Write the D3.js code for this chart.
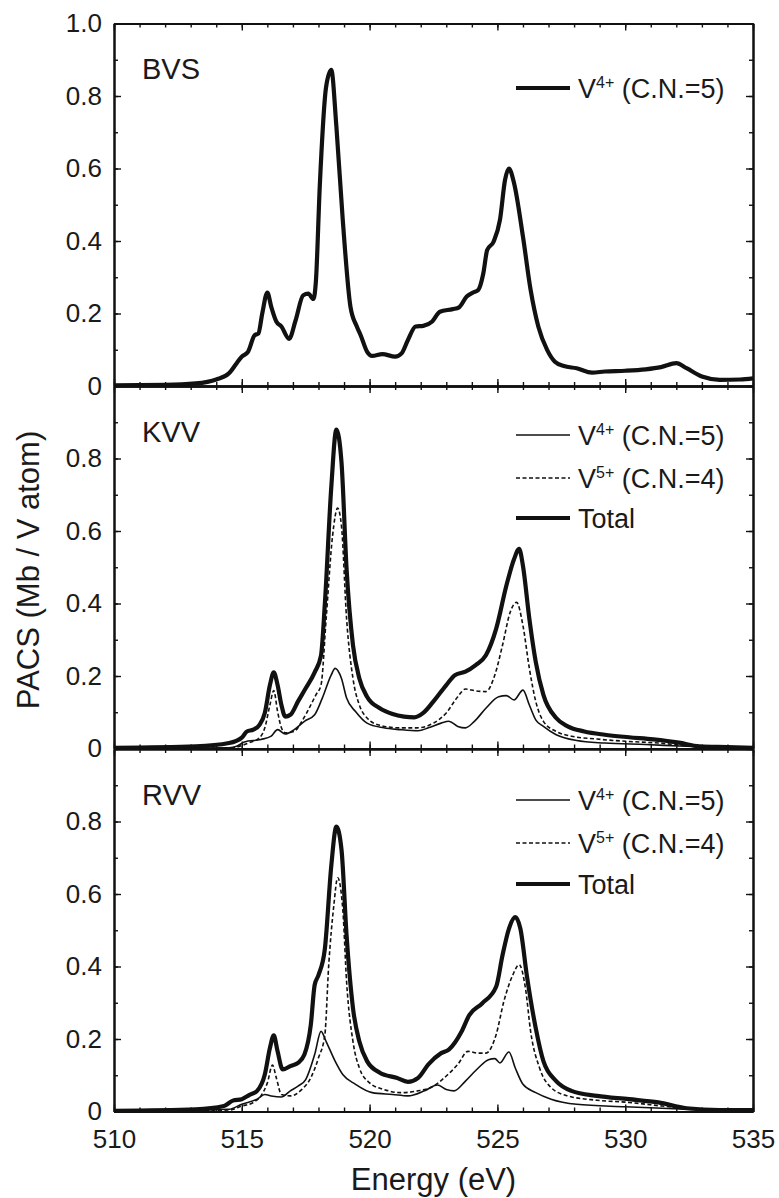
<!DOCTYPE html>
<html>
<head>
<meta charset="utf-8">
<script src="https://cdn.jsdelivr.net/npm/d3@7"></script>
<style>
  html, body { margin: 0; padding: 0; background: #fff; }
  svg { display: block; }
  text { font-family: "Liberation Sans", Arial, sans-serif; fill: #1a1a1a; }
</style>
</head>
<body>
<svg id="chart" width="779" height="1198"></svg>
<script>
// ---------- data ----------
const xMajorTicks = [510, 515, 520, 525, 530, 535];
const yMajorTicks = [0, 0.2, 0.4, 0.6, 0.8, 1.0];
const panelNames = ["BVS", "KVV", "RVV"];
const legendLabels = [["V", "4+", " (C.N.=5)"], ["V", "5+", " (C.N.=4)"], ["Total", "", ""]];

// BVS: V4+ (C.N.=5)
const bvsEnergy = [510,512,513.2,514,514.5,514.8,515.0,515.25,515.5,515.65,515.8,516.0,516.15,516.35,516.55,516.85,517.1,517.4,517.6,517.8,517.9,518.05,518.3,518.5,518.7,518.95,519.25,519.5,519.65,519.9,520.1,520.5,521.0,521.25,521.5,521.8,522.1,522.45,522.75,523.25,523.5,523.8,524.05,524.25,524.45,524.6,524.85,525.1,525.3,525.45,525.65,526.0,526.3,526.6,526.95,527.25,527.6,528.1,528.7,529.2,530.0,530.8,531.4,532.0,532.4,533.0,533.7,534.5,535];
const bvsV4 = [0.002,0.003,0.007,0.018,0.035,0.063,0.081,0.095,0.14,0.145,0.2,0.258,0.219,0.178,0.164,0.13,0.18,0.25,0.255,0.24,0.29,0.55,0.826,0.872,0.716,0.458,0.219,0.164,0.14,0.095,0.083,0.088,0.081,0.09,0.127,0.164,0.166,0.178,0.205,0.212,0.217,0.247,0.258,0.265,0.311,0.375,0.398,0.458,0.569,0.6,0.56,0.412,0.265,0.164,0.099,0.067,0.055,0.049,0.037,0.04,0.042,0.046,0.052,0.063,0.049,0.026,0.017,0.018,0.021];

// KVV
const kvvTotalEnergy = [510,513.2,514.5,515.0,515.2,515.45,515.7,515.9,516.1,516.25,516.4,516.55,516.7,516.9,517.2,517.5,517.85,518.1,518.25,518.5,518.7,518.9,519.1,519.35,519.6,519.9,520.4,520.9,521.35,521.75,522.1,522.5,523.0,523.35,523.75,524.15,524.55,524.95,525.35,525.65,525.85,526.0,526.25,526.5,526.8,527.3,527.75,528.4,529.2,530.15,531.1,532.1,532.9,534.0,535];
const kvvTotal = [0.002,0.006,0.015,0.03,0.047,0.052,0.066,0.098,0.175,0.21,0.175,0.12,0.088,0.093,0.13,0.166,0.21,0.257,0.4,0.72,0.88,0.79,0.494,0.285,0.193,0.143,0.111,0.095,0.088,0.086,0.098,0.13,0.175,0.203,0.212,0.23,0.257,0.33,0.449,0.522,0.551,0.504,0.358,0.239,0.148,0.084,0.061,0.047,0.038,0.031,0.025,0.016,0.006,0.004,0.002];
const kvvV5Energy = [510,514.5,514.8,515.25,515.7,515.9,516.1,516.25,516.4,516.55,516.7,517.05,517.35,517.7,517.9,518.1,518.3,518.55,518.75,518.9,519.1,519.35,519.6,519.9,520.4,521.2,521.85,522.5,523.0,523.45,523.75,524.15,524.55,524.9,525.2,525.5,525.75,526.0,526.25,526.5,526.8,527.3,527.9,528.9,530.0,531.3,532.4,533.7,535];
const kvvV5 = [0,0.001,0.004,0.015,0.03,0.057,0.12,0.16,0.102,0.057,0.043,0.047,0.075,0.12,0.148,0.175,0.358,0.586,0.663,0.613,0.358,0.193,0.12,0.084,0.064,0.057,0.057,0.07,0.098,0.143,0.164,0.159,0.157,0.203,0.285,0.376,0.403,0.339,0.221,0.13,0.075,0.047,0.034,0.026,0.02,0.015,0.008,0.004,0.002];
const kvvV4Energy = [510,514.5,514.8,515.1,515.75,516.15,516.4,516.7,517.05,517.45,517.85,518.15,518.5,518.65,518.9,519.1,519.45,519.9,520.55,521.2,521.9,522.3,522.8,523.1,523.45,523.75,524.1,524.55,525.05,525.35,525.65,526.0,526.25,526.5,526.8,527.3,528.1,529.2,530.8,532.4,535];
const kvvV4 = [0,0.002,0.006,0.018,0.025,0.034,0.052,0.04,0.052,0.075,0.093,0.139,0.203,0.221,0.193,0.139,0.102,0.07,0.057,0.052,0.049,0.057,0.07,0.075,0.061,0.057,0.075,0.111,0.143,0.146,0.134,0.161,0.12,0.079,0.061,0.038,0.022,0.015,0.011,0.006,0.002];

// RVV
const rvvTotalEnergy = [510,513.2,514.3,514.65,515.0,515.3,515.6,515.9,516.1,516.25,516.4,516.6,516.9,517.2,517.45,517.7,517.85,518.0,518.25,518.5,518.7,518.9,519.1,519.35,519.6,519.9,520.4,521.05,521.5,521.9,522.3,522.8,523.1,523.6,523.9,524.4,524.95,525.2,525.45,525.7,525.9,526.15,526.5,526.8,527.3,527.9,528.9,530.15,531.3,532.4,533.7,535];
const rvvTotal = [0.002,0.006,0.015,0.03,0.034,0.046,0.057,0.102,0.175,0.21,0.166,0.116,0.125,0.134,0.157,0.239,0.349,0.376,0.449,0.677,0.786,0.723,0.485,0.285,0.193,0.139,0.107,0.093,0.082,0.093,0.13,0.161,0.171,0.221,0.266,0.298,0.344,0.431,0.504,0.536,0.504,0.376,0.23,0.139,0.084,0.057,0.043,0.034,0.025,0.009,0.004,0.004];
const rvvV5Energy = [510,514.5,515.0,515.45,515.75,516.0,516.2,516.35,516.55,516.9,517.35,517.7,518.0,518.25,518.4,518.6,518.75,518.95,519.1,519.35,519.6,520.0,520.55,521.2,521.9,522.5,523.0,523.45,523.85,524.25,524.55,524.95,525.25,525.6,525.85,526.1,526.3,526.65,527.1,527.75,528.9,530.15,531.45,532.7,535];
const rvvV5 = [0,0.004,0.015,0.025,0.043,0.079,0.128,0.093,0.047,0.043,0.061,0.093,0.148,0.212,0.403,0.568,0.645,0.558,0.358,0.193,0.12,0.079,0.061,0.052,0.057,0.07,0.098,0.13,0.166,0.161,0.161,0.212,0.303,0.376,0.405,0.339,0.221,0.12,0.066,0.043,0.031,0.025,0.015,0.006,0.002];
const rvvV4Energy = [510,514.5,515.0,515.6,515.9,516.15,516.55,516.9,517.2,517.5,517.85,518.1,518.3,518.65,518.95,519.45,520.1,520.9,521.5,522.15,522.65,523.0,523.3,523.75,524.25,524.65,524.9,525.1,525.45,525.7,526.0,526.5,527.1,528.1,530.0,532.4,535];
const rvvV4 = [0,0.006,0.02,0.034,0.047,0.043,0.04,0.057,0.07,0.088,0.157,0.221,0.193,0.139,0.102,0.075,0.052,0.047,0.043,0.057,0.073,0.061,0.057,0.084,0.12,0.143,0.146,0.134,0.164,0.12,0.075,0.052,0.034,0.02,0.013,0.006,0.002];

// ---------- layout ----------
const svg = d3.select("#chart");
const left = 114, right = 753;
const panelTops = [23.5, 386, 749];
const panelH = 362.5;
const ink = "#111";

const x = d3.scaleLinear().domain([510, 535]).range([left, right]);
const xMinor = d3.range(510, 536, 1);
const yMinor = d3.range(0, 1.01, 0.1).map(v => +v.toFixed(1));

const styles = {
  V4: { width: 1.6, dash: null },
  V5: { width: 1.6, dash: "4,2.5" },
  Total: { width: 4.2, dash: null },
  Solo: { width: 4.2, dash: null }
};

const panels = [
  { series: [{ e: bvsEnergy, v: bvsV4, s: "Solo" }], legend: [{ label: legendLabels[0], s: "Solo" }], labelY: 79, legendY: [88] },
  { series: [{ e: kvvV4Energy, v: kvvV4, s: "V4" }, { e: kvvV5Energy, v: kvvV5, s: "V5" }, { e: kvvTotalEnergy, v: kvvTotal, s: "Total" }],
    legend: [{ label: legendLabels[0], s: "V4" }, { label: legendLabels[1], s: "V5" }, { label: legendLabels[2], s: "Total" }], labelY: 442, legendY: [435, 478, 518] },
  { series: [{ e: rvvV4Energy, v: rvvV4, s: "V4" }, { e: rvvV5Energy, v: rvvV5, s: "V5" }, { e: rvvTotalEnergy, v: rvvTotal, s: "Total" }],
    legend: [{ label: legendLabels[0], s: "V4" }, { label: legendLabels[1], s: "V5" }, { label: legendLabels[2], s: "Total" }], labelY: 805, legendY: [800, 843, 884] }
];

function styleAxis(g) {
  g.select(".domain").attr("stroke", ink).attr("stroke-width", 2);
  g.selectAll(".tick line").attr("stroke", ink).attr("stroke-width", 1.4);
  g.selectAll("text").attr("fill", "#1a1a1a").attr("font-size", 26)
    .attr("font-family", '"Liberation Sans", Arial, sans-serif');
}

panels.forEach((p, i) => {
  const top = panelTops[i], bottom = top + panelH;
  const y = d3.scaleLinear().domain([0, 1]).range([bottom, top]);
  const g = svg.append("g");

  // curves
  const line = d3.line().x(d => x(d[0])).y(d => y(d[1])).curve(d3.curveMonotoneX);
  p.series.forEach(sr => {
    const pts = sr.e.map((e, k) => [e, sr.v[k]]);
    const st = styles[sr.s];
    g.append("path").datum(pts).attr("d", line)
      .attr("fill", "none").attr("stroke", ink)
      .attr("stroke-width", st.width)
      .attr("stroke-linejoin", "round")
      .attr("stroke-dasharray", st.dash);
  });

  // minor ticks (inward)
  g.append("g").attr("transform", `translate(${left},0)`)
    .call(d3.axisLeft(y).tickValues(yMinor).tickSize(-4).tickSizeOuter(0).tickFormat(""))
    .call(styleAxis);
  g.append("g").attr("transform", `translate(${right},0)`)
    .call(d3.axisRight(y).tickValues(yMinor).tickSize(-4).tickSizeOuter(0).tickFormat(""))
    .call(styleAxis);
  g.append("g").attr("transform", `translate(0,${top})`)
    .call(d3.axisTop(x).tickValues(xMinor).tickSize(-4).tickSizeOuter(0).tickFormat(""))
    .call(styleAxis);
  g.append("g").attr("transform", `translate(0,${bottom})`)
    .call(d3.axisBottom(x).tickValues(xMinor).tickSize(-4).tickSizeOuter(0).tickFormat(""))
    .call(styleAxis);

  // major ticks
  const yLabels = i === 0 ? yMajorTicks : yMajorTicks.filter(v => v < 1);
  g.append("g").attr("transform", `translate(${left},0)`)
    .call(d3.axisLeft(y).tickValues(yLabels).tickSize(-7).tickSizeOuter(0).tickPadding(12)
      .tickFormat(v => v === 0 ? "0" : d3.format(".1f")(v)))
    .call(styleAxis);
  g.append("g").attr("transform", `translate(${right},0)`)
    .call(d3.axisRight(y).tickValues(yMajorTicks).tickSize(-7).tickSizeOuter(0).tickFormat(""))
    .call(styleAxis);
  g.append("g").attr("transform", `translate(0,${top})`)
    .call(d3.axisTop(x).tickValues(xMajorTicks).tickSize(-7).tickSizeOuter(0).tickFormat(""))
    .call(styleAxis);
  const xb = d3.axisBottom(x).tickValues(xMajorTicks).tickSize(-7).tickSizeOuter(0);
  if (i === 2) xb.tickPadding(18).tickFormat(d3.format("d")); else xb.tickFormat("");
  g.append("g").attr("transform", `translate(0,${bottom})`).call(xb).call(styleAxis);

  // panel label
  g.append("text").attr("x", 142).attr("y", p.labelY)
    .attr("font-size", 29).text(panelNames[i]);

  // legend
  p.legend.forEach((lg, k) => {
    const ly = p.legendY[k];
    const st = styles[lg.s];
    g.append("line").attr("x1", 516).attr("x2", 570).attr("y1", ly).attr("y2", ly)
      .attr("stroke", ink).attr("stroke-width", st.width).attr("stroke-dasharray", st.dash);
    const t = g.append("text").attr("x", 578).attr("y", ly + 10).attr("font-size", 27);
    t.append("tspan").text(lg.label[0]);
    if (lg.label[1]) {
      t.append("tspan").attr("font-size", 16).attr("dy", -10).text(lg.label[1]);
      t.append("tspan").attr("dy", 10).text(lg.label[2]);
    }
  });
});

// axis titles
svg.append("text").attr("x", (left + right) / 2).attr("y", 1190)
  .attr("text-anchor", "middle").attr("font-size", 31).text("Energy (eV)");
svg.append("text").attr("transform", "translate(39,570) rotate(-90)")
  .attr("text-anchor", "middle").attr("font-size", 31).text("PACS (Mb / V atom)");
</script>
</body>
</html>
